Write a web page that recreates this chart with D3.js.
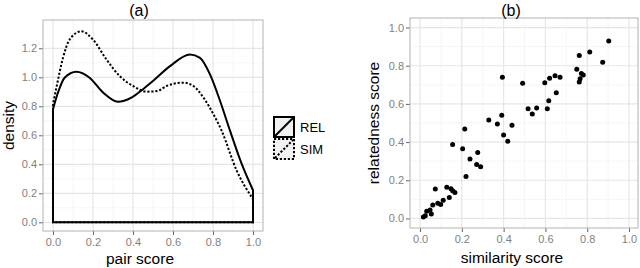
<!DOCTYPE html>
<html>

<head>
    <meta charset="UTF-8">
    <style>
        body { margin: 0; background: #fff; }
        text { font-family: "Liberation Sans", Arial, sans-serif; }
    </style>
</head>

<body>
    <script src="https://d3js.org/d3.v7.min.js"></script>
    <div id="chart"></div>
    <script>
        // panel (a): density of pair scores
        var relX = [0, 0.025, 0.058, 0.117, 0.183, 0.25, 0.325, 0.392, 0.45, 0.5, 0.585, 0.685, 0.735, 0.785, 0.835, 0.885, 0.943, 1.0];
        var relY = [0.78, 0.895, 0.997, 1.038, 0.997, 0.895, 0.831, 0.86, 0.918, 0.975, 1.077, 1.157, 1.134, 1.02, 0.838, 0.632, 0.404, 0.221];
        var simX = [0, 0.017, 0.05, 0.083, 0.142, 0.2, 0.267, 0.333, 0.4, 0.467, 0.52, 0.568, 0.652, 0.702, 0.752, 0.802, 0.843, 0.918, 1.0];
        var simY = [0.815, 0.929, 1.134, 1.26, 1.317, 1.26, 1.123, 1.009, 0.94, 0.901, 0.905, 0.94, 0.963, 0.94, 0.86, 0.746, 0.632, 0.358, 0.16];
        var seriesNames = ["REL", "SIM"];
        var densityTicks = [0, 0.2, 0.4, 0.6, 0.8, 1.0, 1.2];
        var scoreTicks = [0, 0.2, 0.4, 0.6, 0.8, 1.0];

        // panel (b): similarity vs relatedness
        var simScore = [0.903, 0.812, 0.762, 0.874, 0.75, 0.772, 0.781, 0.766, 0.762, 0.394, 0.491, 0.597, 0.62, 0.646, 0.67,
            0.652, 0.616, 0.609, 0.558, 0.537, 0.517, 0.391, 0.329, 0.37, 0.44, 0.214, 0.40, 0.42, 0.156, 0.204, 0.276,
            0.239, 0.271, 0.29, 0.22, 0.073, 0.128, 0.148, 0.156, 0.167, 0.14, 0.111, 0.085, 0.099, 0.061, 0.048, 0.032,
            0.054, 0.025, 0.016];
        var relScore = [0.930, 0.872, 0.853, 0.818, 0.782, 0.759, 0.752, 0.732, 0.715, 0.74, 0.708, 0.711, 0.735, 0.747, 0.74,
            0.659, 0.617, 0.575, 0.579, 0.547, 0.575, 0.54, 0.516, 0.495, 0.488, 0.469, 0.437, 0.404, 0.388, 0.365, 0.346,
            0.311, 0.283, 0.271, 0.22, 0.154, 0.163, 0.155, 0.145, 0.136, 0.11, 0.096, 0.079, 0.073, 0.07, 0.044, 0.038,
            0.023, 0.014, 0.008];
        var unitTicks = [0, 0.2, 0.4, 0.6, 0.8, 1.0];

        const svg = d3.select("#chart")
            .append("svg")
            .attr("width", 640)
            .attr("height", 268);

        const fmt = d3.format(".1f");

        // draws the bw background, grid and axes for one panel
        function panel(x, y, xTicks, yTicks) {
            const [x0, x1] = x.range();
            const [y0, y1] = y.range();
            const g = svg.append("g");
            g.append("rect").attr("x", x0).attr("y", y1).attr("width", x1 - x0).attr("height", y0 - y1).attr("fill", "#fff");

            const minorX = xTicks.slice(1).map((d, i) => (d + xTicks[i]) / 2);
            const minorY = yTicks.slice(1).map((d, i) => (d + yTicks[i]) / 2);
            g.selectAll(".mx").data(minorX).enter().append("line")
                .attr("x1", d => x(d)).attr("x2", d => x(d)).attr("y1", y0).attr("y2", y1)
                .attr("stroke", "#f4f4f4").attr("stroke-width", 0.8);
            g.selectAll(".my").data(minorY).enter().append("line")
                .attr("y1", d => y(d)).attr("y2", d => y(d)).attr("x1", x0).attr("x2", x1)
                .attr("stroke", "#f4f4f4").attr("stroke-width", 0.8);
            g.selectAll(".gx").data(xTicks).enter().append("line")
                .attr("x1", d => x(d)).attr("x2", d => x(d)).attr("y1", y0).attr("y2", y1)
                .attr("stroke", "#e6e6e6").attr("stroke-width", 1.2);
            g.selectAll(".gy").data(yTicks).enter().append("line")
                .attr("y1", d => y(d)).attr("y2", d => y(d)).attr("x1", x0).attr("x2", x1)
                .attr("stroke", "#e6e6e6").attr("stroke-width", 1.2);

            const ax = g.append("g").attr("transform", `translate(0,${y0})`)
                .call(d3.axisBottom(x).tickValues(xTicks).tickFormat(fmt).tickSize(4).tickPadding(3));
            const ay = g.append("g").attr("transform", `translate(${x0},0)`)
                .call(d3.axisLeft(y).tickValues(yTicks).tickFormat(fmt).tickSize(4).tickPadding(2));
            [ax, ay].forEach(a => {
                a.select(".domain").remove();
                a.selectAll("line").attr("stroke", "#666").attr("stroke-width", 1);
                a.selectAll("text").attr("fill", "#7f7f7f").style("font-size", "11px")
                    .style("font-family", "'Liberation Sans', Arial, sans-serif");
            });
            return g;
        }

        function border(x, y) {
            const [x0, x1] = x.range();
            const [y0, y1] = y.range();
            svg.append("rect").attr("x", x0).attr("y", y1).attr("width", x1 - x0).attr("height", y0 - y1)
                .attr("fill", "none").attr("stroke", "#b3b3b3").attr("stroke-width", 1);
        }

        // ---------- panel (a)
        const xa = d3.scaleLinear().domain([-0.05, 1.05]).range([43, 263]);
        const ya = d3.scaleLinear().domain([-0.06, 1.395]).range([231, 20]);
        panel(xa, ya, scoreTicks, densityTicks);

        const dens = d3.line().x(d => xa(d[0])).y(d => ya(d[1])).curve(d3.curveMonotoneX);
        function densPath(xs, ys) {
            const pts = xs.map((d, i) => [d, ys[i]]);
            return `M${xa(xs[0])},${ya(0)}L` + dens(pts).slice(1) + `L${xa(xs[xs.length - 1])},${ya(0)}Z`;
        }
        svg.append("path").attr("d", densPath(simX, simY))
            .attr("fill", "none").attr("stroke", "#000").attr("stroke-width", 2)
            .attr("stroke-dasharray", "2.2,1.8");
        svg.append("path").attr("d", densPath(relX, relY))
            .attr("fill", "none").attr("stroke", "#000").attr("stroke-width", 2);
        border(xa, ya);

        svg.append("text").attr("x", 139).attr("y", 16).attr("text-anchor", "middle")
            .style("font-size", "16px").text("(a)");
        svg.append("text").attr("x", 140).attr("y", 264).attr("text-anchor", "middle")
            .style("font-size", "15.5px").text("pair score");
        svg.append("text").attr("transform", "translate(14,125.5)rotate(-90)").attr("text-anchor", "middle")
            .style("font-size", "15.5px").text("density");

        // legend
        const leg = svg.append("g").attr("transform", "translate(274,117)");
        seriesNames.forEach((name, i) => {
            const k = leg.append("g").attr("transform", `translate(0,${i * 22})`);
            k.append("rect").attr("x", 0).attr("y", 0).attr("width", 20).attr("height", 20)
                .attr("fill", "#f2f2f2").attr("stroke", "#000").attr("stroke-width", 2)
                .attr("stroke-dasharray", i ? "2.2,1.8" : null);
            k.append("line").attr("x1", 1).attr("y1", 19).attr("x2", 19).attr("y2", 1)
                .attr("stroke", "#000").attr("stroke-width", 2)
                .attr("stroke-dasharray", i ? "2.2,1.8" : null);
            k.append("text").attr("x", 26).attr("y", 10).attr("dy", "0.36em")
                .style("font-size", "13px").text(name);
        });

        // ---------- panel (b)
        const xb = d3.scaleLinear().domain([-0.048, 1.043]).range([410, 638]);
        const yb = d3.scaleLinear().domain([-0.05, 1.05]).range([228, 18]);
        panel(xb, yb, unitTicks, unitTicks);

        svg.selectAll(".pt").data(simScore).enter().append("circle")
            .attr("cx", d => xb(d)).attr("cy", (d, i) => yb(relScore[i]))
            .attr("r", 2.5).attr("fill", "#000");
        border(xb, yb);

        svg.append("text").attr("x", 511).attr("y", 16).attr("text-anchor", "middle")
            .style("font-size", "16px").text("(b)");
        svg.append("text").attr("x", 512).attr("y", 263).attr("text-anchor", "middle")
            .style("font-size", "15.5px").text("similarity score");
        svg.append("text").attr("transform", "translate(379,123)rotate(-90)").attr("text-anchor", "middle")
            .style("font-size", "15.5px").text("relatedness score");
    </script>
</body>

</html>
